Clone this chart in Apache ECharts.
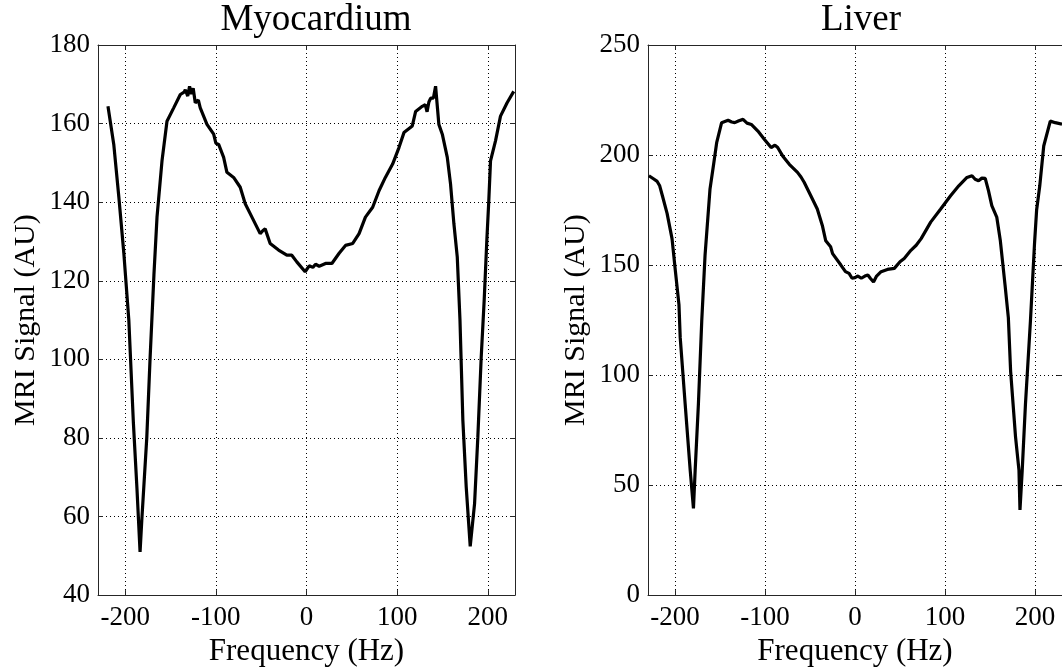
<!DOCTYPE html>
<html>
<head>
<meta charset="utf-8">
<script src="https://cdn.jsdelivr.net/npm/echarts@6/dist/echarts.min.js"></script>
<style>html,body{margin:0;padding:0;background:#fff}#c{width:1062px;height:672px}</style>
</head>
<body>
<div id="c"></div>
<script>
const panelTitles = ['Myocardium', 'Liver'];
const xAxisName = 'Frequency (Hz)';
const yAxisName = 'MRI Signal (AU)';
const freqTicks = [-200, -100, 0, 100, 200];

const myoFreq = [-219, -212.6, -207, -201.5, -196, -191, -187, -183.6, -181.7, -176.2, -172.6, -168.3, -164.9, -159.4, -153.9, -146.5, -139.2, -135, -133.7, -131, -129, -127, -125, -122.7, -119.3, -117.2, -109.8, -102.4, -100, -96.9, -91.4, -87.8, -80.4, -73.1, -67.6, -60.2, -51.1, -48, -45.6, -40.1, -30.8, -21.7, -16.2, -10.7, -1.5, 0, 3, 7, 10, 14, 21, 28, 36, 43, 51, 58, 65, 73, 80, 87, 95, 102, 107.5, 116.7, 120.4, 127.7, 131, 133, 135, 137, 140, 142.4, 146, 149.8, 155.3, 158.9, 162.6, 166.3, 169.3, 172.5, 176.2, 180.6, 185.4, 189, 192.7, 196, 199, 201.1, 203, 208.5, 214, 221.3, 228.6];
const myoSignal = [164.4, 154.7, 141.3, 127, 110, 84, 67, 51, 59, 80, 100, 121.5, 136.2, 150.5, 160.6, 164, 167.4, 168, 168.6, 167, 169.5, 167.5, 169, 165.3, 166, 164, 159.8, 157.3, 155, 154.7, 151.4, 147.6, 146.3, 143.8, 139.6, 136.2, 132, 132.8, 133.2, 129.5, 127.8, 126.5, 126.5, 124.8, 122.3, 122, 123.8, 123.4, 124.2, 123.7, 124.4, 124.4, 127, 129, 129.5, 132, 136.2, 138.7, 142.9, 146.3, 149.7, 153.9, 157.7, 159.4, 163.1, 164.4, 164.8, 163, 165.5, 166.5, 166.5, 169.5, 159.8, 157.3, 151.4, 144.6, 134.5, 126.1, 110, 84.4, 67.5, 52.4, 63.3, 80.2, 100.4, 115, 130.7, 140.4, 150.5, 155.6, 161.9, 165.3, 168.2];

const liverFreq = [-229, -224, -219.8, -217, -214, -208.8, -203.3, -199.5, -195.6, -194.2, -188.7, -183.1, -179.5, -177.6, -174, -170.3, -166.6, -161.1, -157, -153.7, -148.2, -141, -137, -133.6, -129, -124.4, -120, -115.2, -107.9, -100.6, -93.2, -89, -85.9, -80.4, -73, -63.9, -60, -56.5, -49.1, -41.9, -36.3, -32.5, -27.1, -24.9, -15.7, -10.6, -6.6, -3.3, 0, 3.3, 7, 11, 14.3, 17, 20.6, 24, 29, 36, 43.7, 50, 54.7, 62.1, 68, 73.5, 84.1, 95.2, 106.2, 115.3, 124.4, 130, 133.5, 137.3, 141, 144.7, 148.3, 152, 157.5, 161.5, 166.7, 170.4, 172.9, 178.4, 182.2, 183.3, 185.8, 189.4, 194.9, 199.5, 201.8, 205.3, 209.7, 217, 222.5, 230];
const liverSignal = [190.6, 189.2, 188, 186, 181.5, 173.5, 162, 147, 132, 117, 86.8, 56.7, 39.4, 56.7, 86.8, 124.4, 154.5, 184.6, 196, 205.6, 214.7, 215.8, 215, 214.7, 215.6, 216.2, 214.5, 213.9, 210.9, 207.1, 203.4, 204.5, 203.4, 199.6, 195.8, 192.1, 190, 187.6, 181.5, 175.5, 168, 161, 158.3, 155.2, 150, 147, 146.2, 144, 144.3, 145, 144, 145, 145.5, 144, 142.3, 145, 147, 148, 148.5, 151.5, 153, 156.7, 159, 162, 169.5, 175.5, 181.5, 186, 189.8, 190.6, 189, 188.3, 189.5, 189.4, 183.8, 177, 171.8, 161, 141, 126, 101.8, 71.8, 56.7, 38.7, 56.7, 86.8, 124.4, 160, 175, 186, 204.1, 215.4, 214.7, 214];

const FONT = 'Liberation Serif';
const AX = '#262626';

function zip(a, b) { return a.map((v, i) => [v, b[i]]); }

const grids = [
  { left: 98, right: 547, top: 45, bottom: 73 },
  { left: 648, right: -3, top: 45, bottom: 73 }
];
const yRanges = [[40, 180, 20], [0, 250, 50]];

const xAxes = [], yAxes = [];
grids.forEach((g, i) => {
  xAxes.push({
    type: 'value', gridIndex: i, min: -230, max: 230, position: 'bottom',
    name: xAxisName, nameLocation: 'middle', nameGap: 31,
    nameTextStyle: { fontFamily: FONT, fontSize: 31, color: '#000' },
    axisLine: { show: true, onZero: false, lineStyle: { color: AX, width: 1 } },
    axisTick: { show: true, inside: true, length: 5, customValues: freqTicks, lineStyle: { color: AX } },
    axisLabel: { customValues: freqTicks, fontFamily: FONT, fontSize: 27, color: '#000', margin: 9 },
    splitLine: { show: true, lineStyle: { type: [1, 3], color: '#000', width: 1 } }
  });
  xAxes.push({
    type: 'value', gridIndex: i, min: -230, max: 230, position: 'top',
    axisLine: { show: true, onZero: false, lineStyle: { color: AX, width: 1 } },
    axisTick: { show: true, inside: true, length: 5, customValues: freqTicks, lineStyle: { color: AX } },
    axisLabel: { show: false }, splitLine: { show: false }
  });
  const r = yRanges[i];
  yAxes.push({
    type: 'value', gridIndex: i, min: r[0], max: r[1], interval: r[2], position: 'left',
    name: yAxisName, nameLocation: 'middle', nameGap: 57,
    nameTextStyle: { fontFamily: FONT, fontSize: 30, color: '#000' },
    axisLine: { show: true, onZero: false, lineStyle: { color: AX, width: 1 } },
    axisTick: { show: true, inside: true, length: 5, lineStyle: { color: AX } },
    axisLabel: { fontFamily: FONT, fontSize: 27, color: '#000', margin: 8 },
    splitLine: { show: true, lineStyle: { type: [1, 3], color: '#000', width: 1 } }
  });
  yAxes.push({
    type: 'value', gridIndex: i, min: r[0], max: r[1], interval: r[2], position: 'right',
    axisLine: { show: true, onZero: false, lineStyle: { color: AX, width: 1 } },
    axisTick: { show: true, inside: true, length: 5, lineStyle: { color: AX } },
    axisLabel: { show: false }, splitLine: { show: false }
  });
});

const chart = echarts.init(document.getElementById('c'), null, { renderer: 'canvas' });
chart.setOption({
  backgroundColor: '#fff',
  animation: false,
  title: [
    { text: panelTitles[0], left: 311, top: -3, textAlign: 'center', textStyle: { fontFamily: FONT, fontSize: 37, fontWeight: 'normal', color: '#000' } },
    { text: panelTitles[1], left: 856, top: -3, textAlign: 'center', textStyle: { fontFamily: FONT, fontSize: 37, fontWeight: 'normal', color: '#000' } }
  ],
  grid: grids,
  xAxis: xAxes,
  yAxis: yAxes,
  series: [
    { type: 'line', xAxisIndex: 0, yAxisIndex: 0, data: zip(myoFreq, myoSignal), showSymbol: false, lineStyle: { color: '#000', width: 3.2 }, clip: true },
    { type: 'line', xAxisIndex: 2, yAxisIndex: 2, data: zip(liverFreq, liverSignal), showSymbol: false, lineStyle: { color: '#000', width: 3.2 }, clip: true }
  ]
});
</script>
</body>
</html>
